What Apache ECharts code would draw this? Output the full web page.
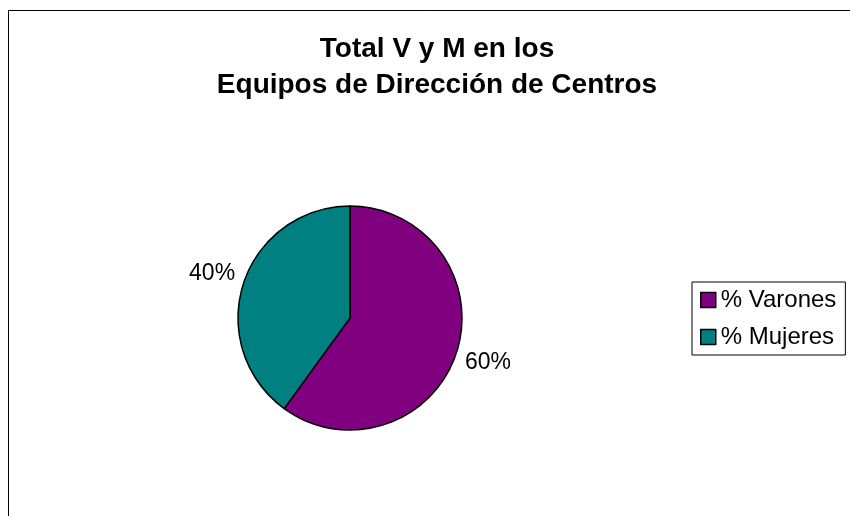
<!DOCTYPE html>
<html>
<head>
<meta charset="utf-8">
<script src="https://cdn.jsdelivr.net/npm/echarts@6/dist/echarts.min.js"></script>
<style>
  html, body { margin: 0; padding: 0; background: #fff; }
  #main { width: 850px; height: 516px; }
</style>
</head>
<body>
<div id="main"></div>
<script>
var titleLines = ['Total V y M en los', 'Equipos de Dirección de Centros'];
var categories = ['% Varones', '% Mujeres'];
var values = [60, 40];
var colors = ['#800080', '#008080'];

var myChart = echarts.init(document.getElementById('main'));

var pieData = [];
var labelData = [];
for (var i = 0; i < categories.length; i++) {
    pieData.push({
        name: categories[i],
        value: values[i],
        itemStyle: { color: colors[i] }
    });
    labelData.push({ name: categories[i], value: values[i] });
}

var option = {
    backgroundColor: '#fff',
    animation: false,
    title: {
        text: titleLines.join('\n'),
        left: 432,
        top: 26,
        textAlign: 'center',
        textStyle: {
            fontFamily: 'Liberation Sans, Arial',
            fontWeight: 'bold',
            fontSize: 28,
            lineHeight: 36,
            color: '#000'
        }
    },
    legend: {
        orient: 'vertical',
        left: 692,
        top: 282,
        padding: [6, 9, 6, 8],
        itemGap: 13,
        itemWidth: 15,
        itemHeight: 15,
        borderColor: '#000',
        borderWidth: 1,
        borderRadius: 0,
        icon: 'rect',
        itemStyle: { borderColor: '#000', borderWidth: 1.5 },
        textStyle: {
            fontFamily: 'Liberation Sans, Arial',
            fontSize: 24,
            lineHeight: 24,
            color: '#000'
        },
        data: categories
    },
    graphic: [{
        type: 'rect',
        shape: { x: 8.5, y: 10.5, width: 900, height: 600 },
        style: { fill: 'none', stroke: '#000', lineWidth: 1 },
        silent: true
    }],
    series: [{
        type: 'pie',
        center: [350, 318],
        radius: [0, 112],
        startAngle: 90,
        clockwise: true,
        data: pieData,
        itemStyle: { borderColor: '#000', borderWidth: 1.5 },
        label: { show: false },
        labelLine: { show: false },
        emphasis: { disabled: true }
    }, {
        // transparent ring, only to place the percent labels
        type: 'pie',
        center: [350, 318],
        radius: [133, 151],
        startAngle: 90,
        clockwise: true,
        silent: true,
        data: labelData,
        itemStyle: { color: 'rgba(0,0,0,0)', borderWidth: 0 },
        label: {
            show: true,
            position: 'inside',
            rotate: 0,
            formatter: '{d}%',
            fontFamily: 'Liberation Sans, Arial',
            fontSize: 23,
            color: '#000',
            textBorderWidth: 0
        },
        labelLine: { show: false },
        emphasis: { disabled: true }
    }]
};

myChart.setOption(option);
</script>
</body>
</html>
